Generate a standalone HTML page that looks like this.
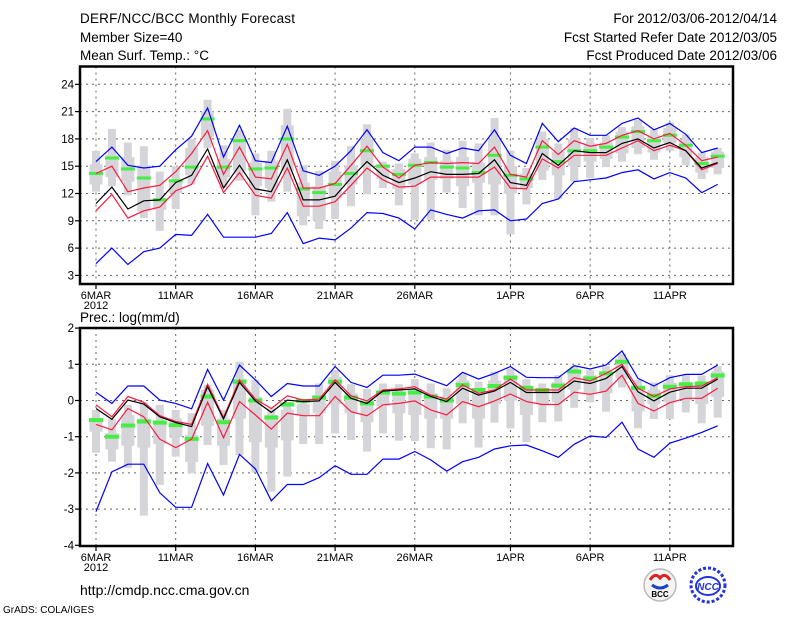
<!DOCTYPE html>
<html><head><meta charset="utf-8">
<style>
html,body{margin:0;padding:0;background:#fff;}
svg{display:block;}
text{font-family:"Liberation Sans",sans-serif;fill:#000;}
</style></head>
<body>
<svg id="chart" width="800" height="618" viewBox="0 0 800 618" xmlns="http://www.w3.org/2000/svg">
<rect width="800" height="618" fill="#fff"/>
<g font-size="13.5">
<text x="80" y="23" textLength="215">DERF/NCC/BCC Monthly Forecast</text>
<text x="80" y="42">Member Size=40</text>
<text x="80" y="60">Mean Surf. Temp.: °C</text>
</g>
<g font-size="13.5" text-anchor="end">
<text x="777" y="23">For 2012/03/06-2012/04/14</text>
<text x="777" y="42">Fcst Started Refer Date 2012/03/05</text>
<text x="777" y="60">Fcst Produced Date 2012/03/06</text>
</g>
<text x="80" y="322" font-size="13.5">Prec.: log(mm/d)</text>
<text x="80" y="595" font-size="14">http://cmdp.ncc.cma.gov.cn</text>
<text x="3" y="613" font-size="10">GrADS: COLA/IGES</text>
<g>
<circle cx="660" cy="585" r="16" fill="#f4f4f4" stroke="#bbb" stroke-width="1.5"/>
<path d="M650 580 q5 -8 10 -2 q5 -6 10 2" fill="none" stroke="#e02020" stroke-width="3"/>
<path d="M652 585 q8 6 16 0" fill="none" stroke="#2040c0" stroke-width="3"/>
<text x="660" y="597" font-size="8" font-weight="bold" text-anchor="middle" font-family="Liberation Serif,serif">BCC</text>
</g>
<g>
<circle cx="708" cy="585" r="17" fill="#fff" stroke="#2233dd" stroke-width="3" stroke-dasharray="3 2"/>
<ellipse cx="708" cy="586" rx="12" ry="9" fill="none" stroke="#2233dd" stroke-width="2"/>
<text x="708" y="590" font-size="10" font-weight="bold" font-style="italic" text-anchor="middle" style="fill:#2233dd">NCC</text>
</g>
<g id="top"></g>
<g id="bot"></g>
</svg>
<script>
const days = 40;
const xTickDays = [0,5,10,15,20,26,31,36];
const xTickLabels = ["6MAR","11MAR","16MAR","21MAR","26MAR","1APR","6APR","11APR"];
// Top panel: temperature
const tTicks = [3,6,9,12,15,18,21,24];
const tBlueUp = [15.5,17.1,15.1,14.8,15.0,16.8,18.3,21.4,16.0,19.5,15.6,15.4,19.4,14.5,14.0,15.0,16.7,19.0,16.5,15.6,17.1,17.1,16.4,17.0,16.7,19.0,16.2,15.3,19.7,17.7,19.2,18.4,18.4,19.7,20.3,19.0,19.7,18.5,16.5,17.0];
const tRedUp = [14.2,15.0,12.2,12.6,12.9,14.4,16.4,18.9,14.1,17.1,13.8,13.6,17.4,12.6,12.6,13.1,15.1,17.2,14.9,13.7,15.1,15.4,15.3,15.4,15.3,17.1,14.1,13.8,17.8,16.3,17.8,17.2,17.5,18.4,18.9,18.0,18.6,17.3,15.6,16.0];
const tMean = [10.9,12.7,10.3,11.2,11.3,13.2,14.0,16.9,12.6,15.1,12.5,12.2,15.7,11.3,11.3,11.7,13.7,15.5,14.0,13.2,13.7,14.4,14.1,14.1,14.2,15.7,13.2,12.9,16.4,15.1,16.7,16.5,16.5,17.5,18.0,17.0,17.6,16.7,14.8,15.4];
const tRedLo = [10.1,11.9,9.3,10.1,10.5,12.3,13.0,16.1,12.1,14.3,11.8,11.5,14.8,10.6,10.6,11.1,12.9,14.8,13.5,12.7,12.8,13.8,13.8,13.8,13.8,14.9,12.6,12.5,15.8,14.8,16.2,16.2,16.2,17.0,17.8,16.7,17.3,16.7,14.6,15.3];
const tBlueLo = [4.3,6.0,4.2,5.6,6.0,7.5,7.4,9.7,7.2,7.2,7.2,7.6,9.9,6.5,7.1,6.9,8.2,9.9,9.8,9.3,8.1,10.2,9.7,9.3,10.1,10.2,9.0,9.2,10.9,11.4,13.3,13.5,13.7,14.3,14.6,13.6,14.3,13.7,12.1,13.0];
const tMax = [16.7,19.1,17.6,17.2,14.4,15.0,18.0,22.3,17.3,19.0,16.4,16.7,21.3,15.1,14.5,15.6,17.2,19.6,15.5,15.3,16.4,17.6,16.8,17.8,17.5,20.3,16.7,14.8,18.8,17.5,19.2,18.1,18.4,19.3,20.1,19.0,19.8,18.5,16.5,17.0];
const tMin = [12.2,12.8,11.8,9.3,7.9,10.3,13.0,17.0,12.6,13.4,9.6,11.1,12.2,8.5,8.1,9.2,10.6,11.9,12.6,10.7,9.1,9.1,12.1,10.4,9.6,9.6,7.5,10.8,13.5,11.4,13.3,13.7,14.9,15.5,16.3,15.7,16.7,15.1,13.6,14.1];
const tQ3 = [15.2,16.2,16.0,15.1,11.5,13.5,17.0,21.0,15.8,18.2,15.4,15.6,19.5,13.2,12.8,14.4,15.1,18.0,15.2,14.7,15.8,16.0,15.6,16.0,15.4,18.0,15.0,14.2,18.0,16.6,18.0,17.5,17.6,18.8,19.4,18.4,19.2,17.9,16.0,16.6];
const tQ1 = [13.0,13.8,13.3,10.0,10.2,12.0,14.0,18.2,13.8,14.5,12.8,12.6,14.5,9.5,9.0,11.5,13.0,15.0,13.6,12.5,13.0,13.5,13.6,12.8,13.2,13.0,12.0,12.6,14.5,14.0,15.0,15.5,15.8,16.4,17.0,16.5,17.5,16.0,14.3,14.8];
const tObs = [14.2,15.9,14.7,13.7,11.3,13.4,14.9,20.2,14.9,17.8,14.7,14.8,18.0,12.5,12.1,13.0,14.2,16.7,15.0,14.1,15.1,15.4,14.9,14.8,14.3,16.2,14.0,13.6,17.1,15.5,16.7,16.7,17.1,18.2,18.8,17.8,18.4,17.3,15.3,16.1];
// Bottom panel: precipitation
const bTicks = [-4,-3,-2,-1,0,1,2];
const bBlueUp = [0.23,-0.08,0.40,0.40,0.01,-0.08,-0.23,0.86,0.01,0.98,0.57,0.11,0.47,0.40,0.40,0.94,0.50,0.36,0.70,0.70,0.73,0.57,0.41,0.78,0.59,0.75,0.94,0.64,0.63,0.63,0.96,0.87,0.98,1.37,0.61,0.40,0.63,0.72,0.72,0.98];
const bRedUp = [-0.12,-0.45,0.11,-0.05,-0.42,-0.58,-0.66,0.45,-0.47,0.57,0.04,-0.22,0.13,0.01,0.04,0.57,0.13,-0.01,0.29,0.32,0.38,0.15,0.04,0.43,0.20,0.29,0.59,0.29,0.29,0.29,0.63,0.54,0.75,1.00,0.34,0.11,0.32,0.38,0.40,0.63];
const bMean = [-0.22,-0.52,0.01,-0.10,-0.45,-0.61,-0.72,0.38,-0.51,0.50,-0.01,-0.33,0.01,-0.03,-0.01,0.50,0.06,-0.08,0.26,0.29,0.32,0.11,-0.03,0.34,0.15,0.26,0.50,0.22,0.22,0.22,0.54,0.47,0.61,0.94,0.24,-0.01,0.23,0.34,0.34,0.59];
const bRedLo = [-0.66,-0.81,-0.22,-0.45,-1.07,-1.30,-1.07,-0.05,-1.03,-0.03,-0.40,-0.79,-0.35,-0.42,-0.42,0.11,-0.31,-0.42,-0.12,-0.08,-0.01,-0.26,-0.40,-0.03,-0.17,-0.01,0.18,-0.03,-0.11,-0.11,0.23,0.17,0.26,0.70,-0.08,-0.29,-0.06,0.06,0.06,0.34];
const bBlueLo = [-3.07,-1.97,-1.76,-1.76,-2.55,-2.95,-2.95,-1.74,-2.61,-1.49,-1.89,-2.77,-2.32,-2.32,-2.13,-1.80,-2.04,-2.04,-1.62,-1.62,-1.41,-1.64,-1.95,-1.69,-1.57,-1.34,-1.25,-1.23,-1.39,-1.57,-1.21,-0.98,-1.02,-0.60,-1.34,-1.57,-1.18,-1.04,-0.88,-0.70];
const bMax = [-0.26,-0.52,-0.12,-0.05,-0.12,-0.26,-0.35,0.43,-0.26,1.07,0.57,-0.22,-0.04,0.01,0.47,0.84,0.45,0.32,0.47,0.45,0.59,0.47,0.34,0.75,0.52,0.80,0.89,0.59,0.47,0.70,0.95,0.84,0.95,1.30,0.57,0.50,0.70,0.70,0.69,0.95];
const bMin = [-1.44,-1.69,-1.86,-3.18,-2.33,-1.55,-2.01,-1.23,-1.78,-1.51,-1.99,-2.52,-2.10,-1.20,-1.20,-0.91,-1.09,-1.41,-0.91,-1.11,-1.12,-1.32,-1.35,-0.63,-1.30,-0.61,-0.77,-1.15,-0.60,-0.58,-0.20,-0.05,-0.31,0.36,-0.77,-0.51,-0.51,-0.33,-0.63,-0.47];
const bQ3 = [-0.49,-0.90,-0.40,-0.50,-0.55,-0.50,-0.95,0.30,-0.50,0.60,0.10,-0.40,-0.25,-0.10,0.15,0.65,0.20,0.05,0.28,0.25,0.30,0.20,0.10,0.55,0.30,0.55,0.70,0.35,0.35,0.50,0.80,0.70,0.80,1.15,0.40,0.30,0.50,0.50,0.50,0.80];
const bQ1 = [-0.86,-1.35,-1.25,-1.30,-1.20,-1.00,-1.70,-0.70,-1.25,-0.50,-1.15,-1.30,-1.10,-0.40,-0.35,-0.10,-0.35,-0.60,-0.15,-0.35,-0.40,-0.50,-0.50,-0.10,-0.50,-0.10,0.00,-0.40,-0.10,-0.05,0.30,0.20,0.20,0.60,-0.30,-0.10,-0.05,0.00,-0.10,0.10];
const bObs = [-0.54,-1.0,-0.69,-0.58,-0.61,-0.68,-1.06,0.11,-0.60,0.52,0.0,-0.47,-0.11,-0.01,0.08,0.52,0.08,-0.08,0.22,0.19,0.22,0.11,0.0,0.43,0.29,0.40,0.63,0.35,0.29,0.41,0.80,0.61,0.75,1.07,0.35,0.13,0.38,0.45,0.47,0.69];

const NS = "http://www.w3.org/2000/svg";
function mk(parent, tag, attrs) {
  const e = document.createElementNS(NS, tag);
  for (const k in attrs) e.setAttribute(k, attrs[k]);
  parent.appendChild(e);
  return e;
}
const xScale = i => 96 + 15.94 * i;

function drawPanel(g, P, d) {
  const y = v => P.y0 + (P.vTop - v) * P.k;
  d.ticks.forEach(t => {
    const yy = y(t);
    if (yy > P.top + 2 && yy < P.bottom - 2) {
      const l = mk(g, 'line', {x1: P.left, x2: P.right, y1: yy, y2: yy, stroke: '#666', 'stroke-width': 1, 'stroke-dasharray': '2 4'});
      
      
    }
    const tk = mk(g, 'line', {x1: P.left - 5, x2: P.left, y1: yy, y2: yy, stroke: '#000', 'stroke-width': 1.2});
    
    
    const tx = mk(g, 'text', {x: P.left - 6, y: yy + 4, 'font-size': 11.5, 'text-anchor': 'end'});
    tx.textContent = t;
    
    
  });
  xTickDays.forEach((dd, j) => {
    const xx = xScale(dd);
    const l = mk(g, 'line', {x1: xx, x2: xx, y1: P.top, y2: P.bottom, stroke: '#666', 'stroke-width': 1, 'stroke-dasharray': '2 4'});
    
    
    const tk = mk(g, 'line', {x1: xx, x2: xx, y1: P.bottom, y2: P.bottom + 5, stroke: '#000', 'stroke-width': 1.2});
    
    
    const tx = mk(g, 'text', {x: xx, y: P.bottom + 15, 'font-size': 11, 'text-anchor': 'middle'});
    tx.textContent = xTickLabels[j];
    
    
  });
  const yr = mk(g, 'text', {x: xScale(0), y: P.bottom + 25, 'font-size': 11, 'text-anchor': 'middle'});
  yr.textContent = '2012';
  
  
  for (let i = 0; i < days; i++) {
    const xx = xScale(i);
    const r1 = mk(g, 'rect', {x: xx - 4, y: y(d.max[i]), width: 8, height: Math.max(0, y(d.min[i]) - y(d.max[i])), fill: '#d4d4d9'});
    
    
    const r2 = mk(g, 'rect', {x: xx - 6.5, y: y(d.q3[i]), width: 13, height: Math.max(0, y(d.q1[i]) - y(d.q3[i])), fill: '#d4d4d9'});
    
    
  }
  for (let i = 0; i < days; i++) {
    const xx = xScale(i);
    const gr = mk(g, 'rect', {x: xx - 7, y: y(d.obs[i]) - P.gh / 2, width: 14, height: P.gh, fill: '#44ee44'});
    
    
  }
  const lines = [[d.bu, '#0000ff', 'upper-blue-line'], [d.bl, '#0000ff', 'lower-blue-line'], [d.ru, '#ff1a40', 'upper-red-line'], [d.rl, '#ff1a40', 'lower-red-line'], [d.m, '#000', 'ensemble-mean-line']];
  lines.forEach(L => {
    const pts = L[0].map((v, i) => xScale(i).toFixed(1) + ',' + y(v).toFixed(1)).join(' ');
    const pl = mk(g, 'polyline', {points: pts, fill: 'none', stroke: L[1], 'stroke-width': 1.2});
    
    
  });
  const fr = mk(g, 'rect', {x: P.left, y: P.top, width: P.right - P.left, height: P.bottom - P.top, fill: 'none', stroke: '#000', 'stroke-width': 2.5});
  
  
}

const topG = document.getElementById('top');


drawPanel(topG, {left: 80, right: 733, top: 66.5, bottom: 284, y0: 84.3, vTop: 24, k: 9.1, gh: 3},
  {ticks: tTicks, bu: tBlueUp, ru: tRedUp, m: tMean, rl: tRedLo, bl: tBlueLo, max: tMax, min: tMin, q3: tQ3, q1: tQ1, obs: tObs});
const botG = document.getElementById('bot');


drawPanel(botG, {left: 80, right: 733, top: 328, bottom: 546, y0: 400.5, vTop: 0, k: 36.2, gh: 4},
  {ticks: bTicks, bu: bBlueUp, ru: bRedUp, m: bMean, rl: bRedLo, bl: bBlueLo, max: bMax, min: bMin, q3: bQ3, q1: bQ1, obs: bObs});
</script>
</body></html>
